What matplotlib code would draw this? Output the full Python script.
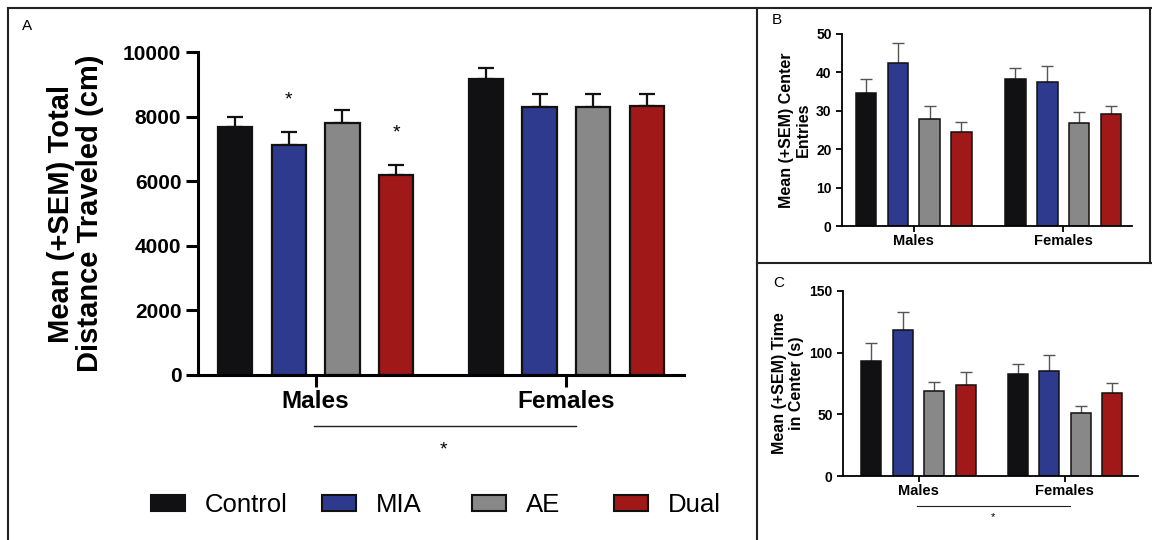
import matplotlib
matplotlib.use("Agg")
import matplotlib.pyplot as plt
from matplotlib.patches import Patch
from matplotlib.lines import Line2D
import numpy as np

plt.rcParams['font.family'] = ['Liberation Sans', 'DejaVu Sans']

groups = ["Control", "MIA", "AE", "Dual"]
colors = ["#111114", "#2e3a8e", "#888888", "#a01818"]
sexes = ["Males", "Females"]

# panel A: total distance (cm)
dist_males = [7680, 7120, 7800, 6190]
dist_males_sem = [310, 400, 400, 310]
dist_females = [9170, 8310, 8310, 8330]
dist_females_sem = [330, 390, 390, 370]

# panel B: center entries
entries_males = [34.7, 42.4, 27.9, 24.5]
entries_males_sem = [3.5, 5.3, 3.4, 2.6]
entries_females = [38.3, 37.5, 26.8, 29.2]
entries_females_sem = [2.8, 4.1, 2.9, 2.1]

# panel C: time in center (s)
time_males = [93.6, 118.7, 69.3, 73.4]
time_males_sem = [14.6, 14.6, 7.3, 10.8]
time_females = [83.1, 85.0, 51.3, 66.9]
time_females_sem = [7.5, 13.2, 5.4, 8.9]


def draw_panel(ax, males, males_sem, females, females_sem, gap, xlim, ylim, yticks,
               spine_w, edge_w, err_col, err_w, capsize, tick_fs, lab_fs, tick_len):
    offsets = np.arange(4) - 1.5
    for i in range(4):
        xs = [offsets[i], gap + offsets[i]]
        vals = [males[i], females[i]]
        sems = [males_sem[i], females_sem[i]]
        ax.errorbar(xs, vals, yerr=[[0, 0], sems], fmt="none", ecolor=err_col,
                    elinewidth=err_w, capsize=capsize, capthick=err_w, zorder=1)
        ax.bar(xs, vals, width=0.64, color=colors[i], edgecolor="#111111",
               linewidth=edge_w, zorder=2)
    ax.set_xlim(*xlim)
    ax.set_ylim(*ylim)
    ax.set_yticks(yticks)
    ax.set_xticks([0, gap])
    ax.set_xticklabels(sexes, fontsize=lab_fs, fontweight="bold")
    for lab in ax.get_yticklabels():
        lab.set_fontweight("bold")
        lab.set_fontsize(tick_fs)
    ax.spines["top"].set_visible(False)
    ax.spines["right"].set_visible(False)
    ax.spines["left"].set_linewidth(spine_w)
    ax.spines["bottom"].set_linewidth(spine_w)
    ax.tick_params(axis="both", width=spine_w, length=tick_len, direction="out")
    ax.patch.set_alpha(0)


def px(x, y):
    return x / 1152, 1 - y / 540


fig = plt.figure(figsize=(11.52, 5.4), dpi=100)

# panel frames
for (x0, y0), (x1, y1) in [((8, 8), (1152, 8)), ((8, 8), (8, 540)), ((757, 8), (757, 540)),
                           ((757, 263), (1152, 263)), ((1150, 8), (1150, 263))]:
    a, b = px(x0, y0)
    c, d = px(x1, y1)
    fig.add_artist(Line2D([a, c], [b, d], transform=fig.transFigure,
                          color="#222222", linewidth=1.5))

# panel A
axA = fig.add_axes([198 / 1152, 1 - 375 / 540, 486 / 1152, 323 / 540])
draw_panel(axA, dist_males, dist_males_sem, dist_females, dist_females_sem, 4.67,
           (-2.19, 6.86), (0, 10000), [0, 2000, 4000, 6000, 8000, 10000],
           2.2, 1.6, "#111111", 1.6, 6, 15, 17.5, 8.5)
axA.set_ylabel("Mean (+SEM) Total\nDistance Traveled (cm)", fontsize=21,
               fontweight="bold", labelpad=14, linespacing=1.05)
axA.tick_params(axis="x", pad=2)
for x, i in [(-0.5, 1), (1.5, 3)]:
    axA.text(x, dist_males[i] + dist_males_sem[i] + 1000, "*", ha="center", va="center",
             fontsize=14)
axA.plot([-0.03, 4.85], [-1580, -1580], color="#222222", linewidth=1, clip_on=False)
axA.text(2.38, -2330, "*", ha="center", va="center", fontsize=14)
fig.text(22 / 1152, 1 - 26 / 540, "A", fontsize=11, va="center")

# legend, one entry at a time so the uneven spacing matches
legend_x = [151, 322, 472, 614]
for name, c, lx in zip(groups, colors, legend_x):
    h = Patch(facecolor=c, edgecolor="#111111", linewidth=1.5)
    fig.legend([h], [name], loc="center left", bbox_to_anchor=px(lx, 505),
               frameon=False, fontsize=18.5, handlelength=1.32, handleheight=0.62,
               handletextpad=0.78, borderpad=0, borderaxespad=0)

# panel B
axB = fig.add_axes([842 / 1152, 1 - 226 / 540, 290 / 1152, 192 / 540])
draw_panel(axB, entries_males, entries_males_sem, entries_females, entries_females_sem, 4.7,
           (-2.25, 6.86), (0, 50), [0, 10, 20, 30, 40, 50],
           1.3, 1.1, "#555555", 1.0, 4.5, 10, 10.5, 4)
axB.set_ylabel("Mean (+SEM) Center\nEntries", fontsize=11.5, fontweight="bold",
               labelpad=4, linespacing=1.15)
axB.tick_params(axis="x", pad=2)
fig.text(772 / 1152, 1 - 20 / 540, "B", fontsize=11, va="center")

# panel C
axC = fig.add_axes([843 / 1152, 1 - 476 / 540, 295 / 1152, 185 / 540])
draw_panel(axC, time_males, time_males_sem, time_females, time_females_sem, 4.64,
           (-2.4, 6.96), (0, 150), [0, 50, 100, 150],
           1.3, 1.1, "#555555", 1.0, 4.5, 10, 10.5, 4)
axC.set_ylabel("Mean (+SEM) Time\nin Center (s)", fontsize=11.5, fontweight="bold",
               labelpad=4, linespacing=1.15)
axC.tick_params(axis="x", pad=2)
axC.plot([-0.05, 4.8], [-24, -24], color="#222222", linewidth=0.8, clip_on=False)
axC.text(2.36, -33, "*", ha="center", va="center", fontsize=8)
fig.text(773 / 1152, 1 - 283 / 540, "C", fontsize=11, va="center")

fig.savefig("out.png", dpi=100)
